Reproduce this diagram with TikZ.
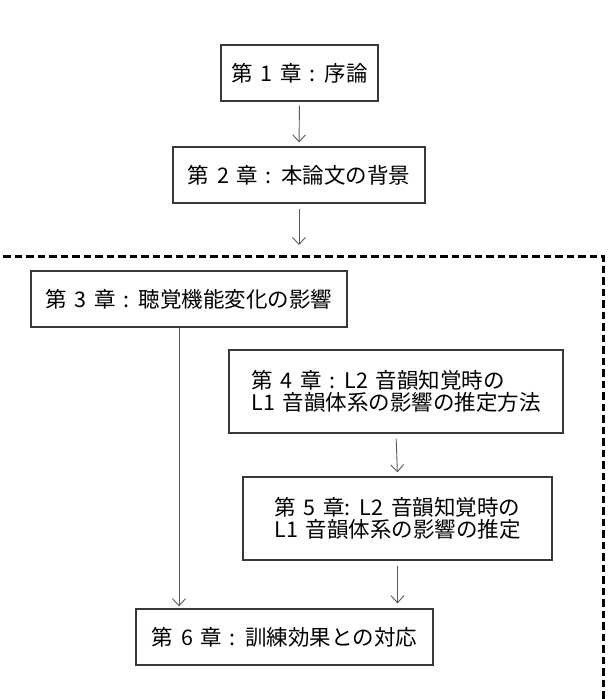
\documentclass[tikz,border=0pt]{standalone}
\usepackage{fontspec}
\setmainfont[WordSpace=1.6]{Noto Sans CJK JP}
\usetikzlibrary{arrows.meta,calc}
\begin{document}
\begin{tikzpicture}[x=1pt,y=-1pt,
  chap/.style={draw=black!78,line width=1.3pt,fill=white,inner sep=0pt,
    font=\fontsize{21.5}{22}\selectfont,align=left,text=black},
  conn/.style={draw=black!65,line width=0.9pt,-{Straight Barb[length=7pt,width=13pt,line width=0.9pt]}}]
\useasboundingbox (0,0) rectangle (615,699);
\fill[white] (0,0) rectangle (615,699);
\begin{scope}
\clip (0,0) rectangle (615,699);
\draw[line width=3pt,dash pattern=on 7.5pt off 4pt] (-20,256) -- (603,256) -- (603,720);
\end{scope}
\node[chap,minimum width=157pt,minimum height=56pt] (b1) at (299.5,73) {第 1 章 : 序論};
\node[chap,minimum width=252pt,minimum height=56pt] (b2) at (299,175) {第 2 章 : 本論文の背景};
\node[chap,minimum width=316pt,minimum height=56pt] (b3) at (189,299) {第 3 章 : 聴覚機能変化の影響};
\node[chap,minimum width=334pt,minimum height=83pt] (b4) at (396,391.5) {第 4 章 : L2 音韻知覚時の\\L1 音韻体系の影響の推定方法};
\node[chap,minimum width=309pt,minimum height=83pt] (b5) at (397.5,518.5) {第 5 章: L2 音韻知覚時の\\L1 音韻体系の影響の推定};
\node[chap,minimum width=297pt,minimum height=56pt] (b6) at (284.5,637) {第 6 章 : 訓練効果との対応};
\coordinate (e2) at (299,245);
\coordinate (c3) at (179,327);
\draw[conn,shorten <=4pt,shorten >=4pt] (b1.south) -- (b2.north);
\draw[conn,shorten <=5pt] (b2.south) -- (e2);
\draw[conn,shorten <=5pt,shorten >=4pt] (b4.south) -- (b5.north);
\draw[conn,shorten <=5pt,shorten >=5pt] (b5.south) -- (b6.north -| b5.south);
\draw[conn,shorten >=2pt] (b3.south -| c3) -- (b6.north -| c3);
\end{tikzpicture}
\end{document}
